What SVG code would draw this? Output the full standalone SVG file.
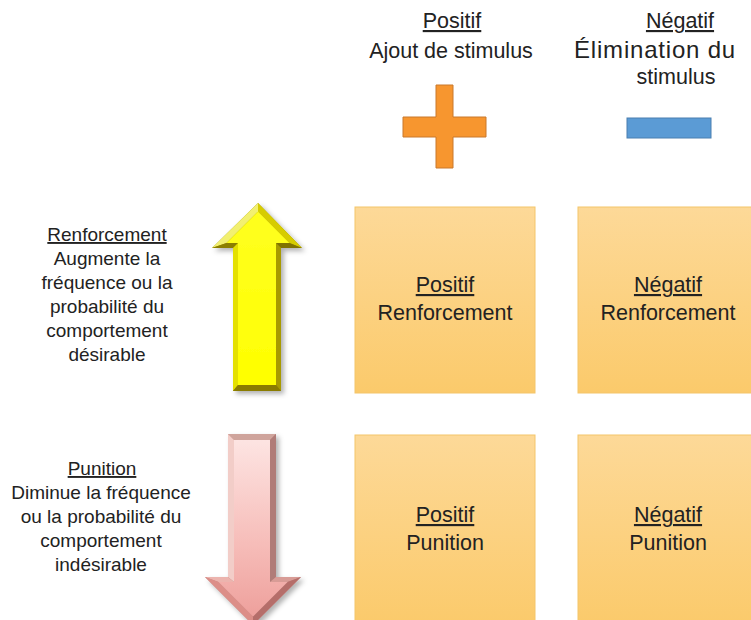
<svg xmlns="http://www.w3.org/2000/svg" width="751" height="620" viewBox="0 0 751 620">
<defs>
<style>
text{font-family:"Liberation Sans",Arial,sans-serif;fill:#222222;text-anchor:middle}
.hd{font-size:21.5px}
.bx{font-size:21.5px}
.sd{font-size:19px}
.u{text-decoration:underline}
.box{fill:url(#boxg);stroke:#f4c56a;stroke-width:1}
</style>
<linearGradient id="boxg" x1="0" y1="0" x2="0" y2="1">
<stop offset="0" stop-color="#fdd998"/>
<stop offset="1" stop-color="#fbca6b"/>
</linearGradient>
<linearGradient id="pinkg" x1="0" y1="0" x2="0" y2="1">
<stop offset="0" stop-color="#fde4e2"/>
<stop offset="0.6" stop-color="#f6bcb8"/>
<stop offset="1" stop-color="#eea09c"/>
</linearGradient>
<linearGradient id="yelg" x1="0" y1="0" x2="0" y2="1">
<stop offset="0" stop-color="#ffff20"/>
<stop offset="1" stop-color="#ffff00"/>
</linearGradient>
<filter id="sh" x="-20%" y="-10%" width="150%" height="130%">
<feDropShadow dx="3" dy="3" stdDeviation="2.5" flood-color="#000" flood-opacity="0.3"/>
</filter>
</defs>
<rect width="751" height="620" fill="#ffffff"/>

<g id="header-positif">
<text class="hd u" x="452" y="28">Positif</text>
<text class="hd" x="451" y="58">Ajout de stimulus</text>
<path d="M436,85H453V117H486V137H453V168H436V137H403V117H436Z" fill="#f7962f" stroke="#c9782c" stroke-width="1"/>
</g>

<g id="header-negatif">
<text class="hd u" x="680" y="28">Négatif</text>
<text x="655" y="58" style="font-size:24px;letter-spacing:0.8px">Élimination du</text>
<text class="hd" x="676" y="84">stimulus</text>
<rect x="627" y="118" width="84" height="20" fill="#5b9bd5" stroke="#4a7fb0" stroke-width="1"/>
</g>

<g id="label-renforcement">
<text class="sd u" x="107" y="241">Renforcement</text>
<text class="sd" x="107" y="265">Augmente la</text>
<text class="sd" x="107" y="289">fréquence ou la</text>
<text class="sd" x="107" y="313">probabilité du</text>
<text class="sd" x="107" y="337">comportement</text>
<text class="sd" x="107" y="361">désirable</text>
</g>

<g id="label-punition">
<text class="sd u" x="102" y="475">Punition</text>
<text class="sd" x="101" y="499">Diminue la fréquence</text>
<text class="sd" x="101" y="523">ou la probabilité du</text>
<text class="sd" x="101" y="547">comportement</text>
<text class="sd" x="101" y="571">indésirable</text>
</g>

<g id="arrow-up" filter="url(#sh)">
<polygon points="258,203 302,248 281,248 281,391 233,391 233,248 212,248" fill="#9a8c00"/>
<polygon points="258,203 212,248 226.5,243 258,211.5" fill="#f2f070"/>
<polygon points="258,203 302,248 289.5,243 258,211.5" fill="#d6cc00"/>
<polygon points="212,248 233,248 238,243 226.5,243" fill="#8c7f00"/>
<polygon points="302,248 281,248 276,243 289.5,243" fill="#807300"/>
<polygon points="233,248 233,391 238,385 238,243" fill="#e4e000"/>
<polygon points="281,248 281,391 276,385 276,243" fill="#a89a00"/>
<polygon points="233,391 281,391 276,385 238,385" fill="#8a7c00"/>
<polygon points="258,211.5 289.5,243 276,243 276,385 238,385 238,243 226.5,243" fill="url(#yelg)"/>
</g>

<g id="arrow-down" filter="url(#sh)">
<polygon points="228,434 276,434 276,577 301,577 253,625 205,577 228,577" fill="#c08480"/>
<polygon points="228,434 276,434 270,440 234,440" fill="#cfa49c"/>
<polygon points="228,434 228,577 234,582 234,440" fill="#f2cdc8"/>
<polygon points="276,434 276,577 270,582 270,440" fill="#b07c78"/>
<polygon points="205,577 228,577 234,582 218.5,582" fill="#ecb4ae"/>
<polygon points="301,577 276,577 270,582 287.5,582" fill="#d89c96"/>
<polygon points="205,577 253,625 253,616.5 218.5,582" fill="#dc8e88"/>
<polygon points="301,577 253,625 253,616.5 287.5,582" fill="#b56e6a"/>
<polygon points="234,440 270,440 270,582 287.5,582 253,616.5 218.5,582 234,582" fill="url(#pinkg)"/>
</g>

<g id="box-pos-renf">
<rect class="box" x="355" y="207" width="180" height="186"/>
<text class="bx u" x="445" y="292">Positif</text>
<text class="bx" x="445" y="320">Renforcement</text>
</g>
<g id="box-neg-renf">
<rect class="box" x="578" y="207" width="180" height="186"/>
<text class="bx u" x="668" y="292">Négatif</text>
<text class="bx" x="668" y="320">Renforcement</text>
</g>
<g id="box-pos-pun">
<rect class="box" x="355" y="435" width="180" height="190"/>
<text class="bx u" x="445" y="522">Positif</text>
<text class="bx" x="445" y="550">Punition</text>
</g>
<g id="box-neg-pun">
<rect class="box" x="578" y="435" width="180" height="190"/>
<text class="bx u" x="668" y="522">Négatif</text>
<text class="bx" x="668" y="550">Punition</text>
</g>
<g id="connectors"/>
</svg>
